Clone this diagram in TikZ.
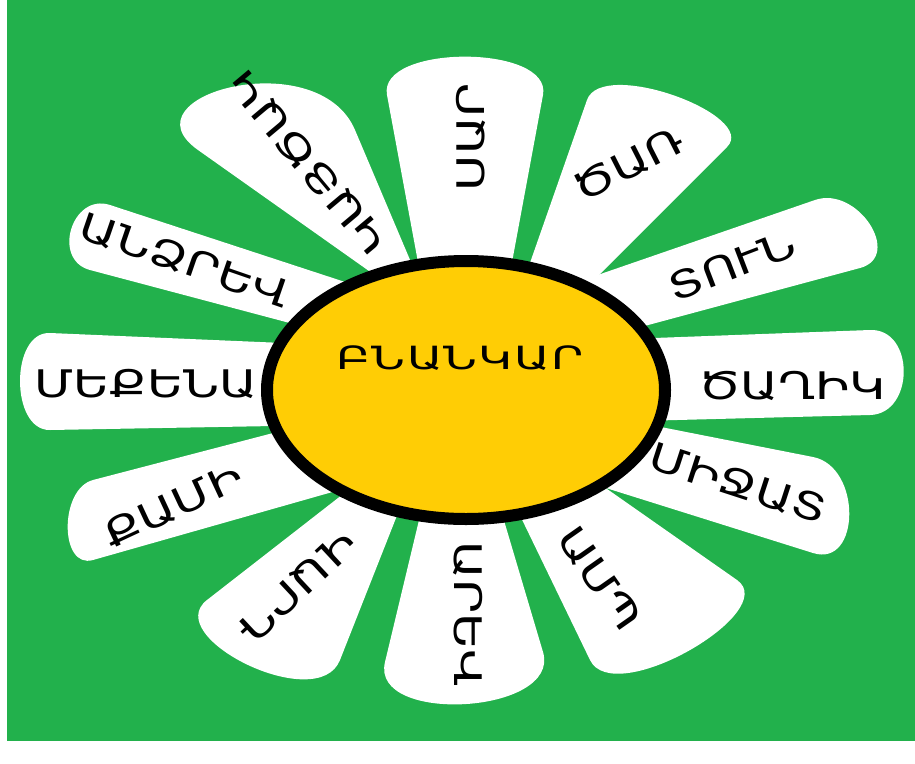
\documentclass[tikz,border=0pt]{standalone}
\usepackage{fontspec}
\newfontfamily\arm[FakeStretch=1.3]{DejaVu Sans}
\newfontfamily\armw[FakeStretch=1.45,LetterSpace=4]{DejaVu Sans}
\usetikzlibrary{calc}
\definecolor{bg}{RGB}{34,177,76}
\definecolor{yel}{RGB}{255,205,5}
\tikzset{
  petalfill/.style={fill=white},
  word/.style={font=\arm\fontsize{38}{38}\selectfont, inner sep=0pt, text height=28pt, text depth=0pt},
  centerword/.style={font=\armw\fontsize{32}{32}\selectfont, inner sep=0pt, text height=23pt, text depth=0pt},
}
\newcommand\petal[5]{\fill[petalfill] (#1) -- (#2) .. controls ($(#2)!-#5!(#1)$) and ($(#3)!-#5!(#4)$) .. (#3) -- (#4) -- cycle;}
\begin{document}
\begin{tikzpicture}[x=1pt,y=-1pt]
\useasboundingbox (0,0) rectangle (915,763);
\fill[white] (0,0) rectangle (915,763);
\fill[bg] (7,0) rectangle (915,741);
% petals
\petal{425,300}{387,95}{543,95}{505,300}{52pt}
\petal{517,300}{587,100}{727,147}{580,294}{45pt}
\petal{560,288}{815,200}{860,268}{600,338}{45pt}
\petal{600,340}{870,330}{870,415}{600,422}{45pt}
\petal{600,415}{813,457}{813,553}{590,483}{50pt}
\petal{498,470}{590,660}{737,580}{570,463}{55pt}
\petal{431,470}{385,662}{543,652}{489,470}{65pt}
\petal{374,470}{207,600}{340,660}{411,480}{60pt}
\petal{300,426}{93,480}{93,560}{350,487}{35pt}
\petal{330,345}{50,333}{50,430}{330,425}{40pt}
\petal{400,300}{110,205}{90,270}{350,339}{40pt}
\petal{410,300}{198,150}{355,130}{427,300}{95pt}
% center
\draw[line width=12pt, fill=yel] (466,390) ellipse [x radius=199pt, y radius=129pt];
\node[centerword] (c) at (460,358) {ԲՆԱՆԿԱՐ};
% words
\node[word, rotate=90] (w1) at (470,137) {ՍԱՐ};
\node[word, rotate=27] (w2) at (628,164) {ԾԱՌ};
\node[word, rotate=21] (w3) at (732,265) {ՏՈՒՆ};
\node[word] (w4) at (792,385) {ԾԱՂԻԿ};
\node[word, rotate=-18] (w5) at (738,483) {ՄԻՋԱՏ};
\node[word, rotate=-55] (w6) at (600,578) {ԱՄՊ};
\node[word, rotate=-90] (w7) at (468,614) {ԱՐԵՎ};
\node[word, rotate=-137] (w8) at (297,587) {ՎԱՐԴ};
\node[word, rotate=25] (w9) at (173,505) {ՔԱՄԻ};
\node[word] (w10) at (146,383) {ՄԵՔԵՆԱ};
\node[word, rotate=-19] (w11) at (185,260) {ԱՆՁՐԵՎ};
\node[word, rotate=130] (w12) at (308,163) {ԿԱՅԾԱԿ};
\end{tikzpicture}
\end{document}
